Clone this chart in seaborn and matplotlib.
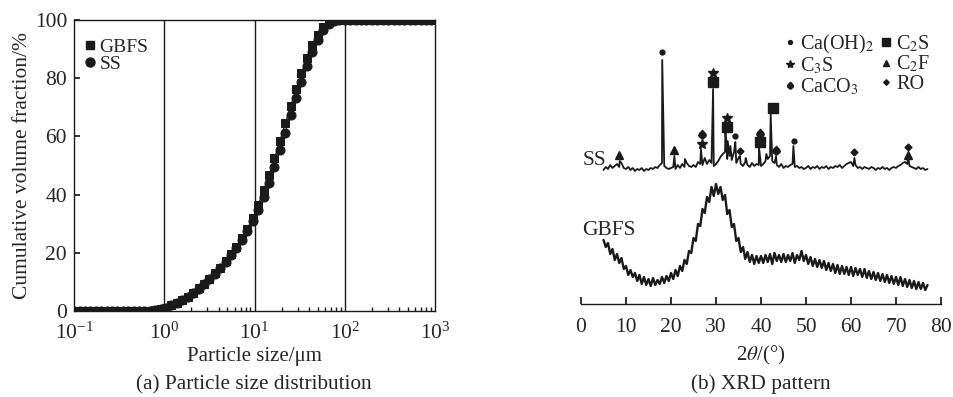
import numpy as np
import pandas as pd
import seaborn as sns
import matplotlib.pyplot as plt
from matplotlib.lines import Line2D

# particle size classes (um) and cumulative volume fraction (%)
sizes = [0.1, 0.115, 0.132, 0.151, 0.174, 0.2, 0.229, 0.263, 0.302, 0.347,
         0.398, 0.457, 0.525, 0.603, 0.692, 0.794, 0.912, 1.047, 1.202, 1.38,
         1.585, 1.82, 2.089, 2.399, 2.754, 3.162, 3.631, 4.169, 4.786, 5.495,
         6.31, 7.244, 8.318, 9.55, 10.965, 12.589, 14.454, 16.596, 19.055, 21.878,
         25.119, 28.84, 33.113, 38.019, 43.652, 50.119, 57.544, 66.069, 75.858, 87.096,
         100.0, 114.815, 131.826, 151.356, 173.78, 199.526, 229.087, 263.027, 301.995, 346.737,
         398.107, 457.088, 524.807, 602.56, 691.831, 794.328, 912.011]
gbfs_cum = [0, 0, 0, 0, 0, 0, 0, 0, 0, 0,
            0, 0, 0, 0.05, 0.15, 0.35, 0.7, 1.2, 1.9, 2.7,
            3.7, 4.9, 6.3, 7.8, 9.4, 11.1, 12.9, 14.9, 17.1, 19.5,
            22.1, 25.0, 28.3, 32.0, 36.5, 41.5, 46.8, 52.5, 58.5, 64.5,
            70.5, 76.3, 81.8, 86.9, 91.3, 95.0, 97.7, 99.3, 99.9, 100,
            100, 100, 100, 100, 100, 100, 100, 100, 100, 100,
            100, 100, 100, 100, 100, 100, 100]
ss_cum = [0, 0, 0, 0, 0, 0, 0, 0, 0, 0,
          0, 0, 0, 0.05, 0.15, 0.35, 0.7, 1.2, 1.9, 2.7,
          3.7, 4.9, 6.2, 7.7, 9.3, 11.0, 12.8, 14.7, 16.8, 19.1,
          21.6, 24.4, 27.5, 31.0, 34.8, 39.2, 44.1, 49.5, 55.2, 61.2,
          67.2, 73.1, 78.8, 84.2, 89.1, 93.2, 96.5, 98.7, 99.7, 100,
          100, 100, 100, 100, 100, 100, 100, 100, 100, 100,
          100, 100, 100, 100, 100, 100, 100]

# XRD: 2theta sampled every 0.5 deg from 5 to 77
theta_grid = np.arange(5.0, 77.01, 0.5)
ss_base = [134, 137, 135, 139, 136, 138, 140, 137, 141, 136,
           135, 137, 134, 136, 133, 135, 134, 136, 133, 135,
           134, 136, 135, 137, 136, 139, 141, 138, 136, 135,
           136, 137, 135, 139, 136, 140, 137, 141, 138, 137,
           139, 137, 142, 140, 139, 146, 140, 144, 141, 138,
           140, 143, 147, 150, 152, 145, 148, 144, 152, 141,
           146, 140, 138, 142, 139, 137, 141, 138, 140, 139,
           138, 140, 143, 145, 148, 143, 141, 139, 137, 140,
           136, 138, 137, 139, 140, 137, 138, 136, 137, 135,
           136, 138, 135, 137, 136, 138, 135, 137, 136, 138,
           135, 137, 136, 138, 137, 139, 136, 138, 140, 141,
           142, 138, 139, 136, 137, 135, 137, 136, 135, 137,
           136, 134, 136, 135, 137, 135, 136, 134, 136, 137,
           136, 138, 139, 141, 142, 140, 138, 137, 136, 135,
           137, 135, 136, 134, 135]
ss_peak_pos = [8.6, 18.05, 20.75, 23.1, 26.65, 29.35, 32.1, 32.6, 33.2, 34.3,
               35.3, 36.6, 39.55, 41.2, 42.15, 43.35, 47.2, 60.75, 72.7]
ss_peak_int = [143, 244, 148, 145, 155, 215, 172, 163, 158, 162,
               148, 146, 157, 150, 190, 148, 158, 146, 147]
gbfs_int = [64, 57, 61, 50, 55, 44, 50, 41, 46, 35,
            38, 29, 34, 27, 31, 23, 29, 20, 27, 19,
            25, 18, 26, 19, 24, 20, 27, 21, 28, 23,
            31, 25, 34, 28, 38, 33, 44, 40, 53, 51,
            66, 63, 80, 78, 95, 91, 107, 102, 117, 108,
            120, 110, 117, 104, 109, 90, 94, 77, 80, 63,
            66, 52, 57, 45, 52, 42, 49, 40, 48, 41,
            48, 41, 49, 42, 50, 40, 51, 43, 49, 42,
            50, 42, 49, 43, 51, 41, 49, 44, 53, 43,
            49, 40, 47, 38, 45, 37, 44, 36, 43, 34,
            41, 33, 40, 31, 39, 30, 38, 30, 37, 29,
            37, 28, 36, 29, 35, 27, 35, 26, 33, 25,
            32, 24, 31, 23, 30, 22, 29, 21, 28, 20,
            27, 19, 27, 18, 25, 17, 24, 16, 23, 15,
            22, 15, 21, 14, 19]

# phase markers above peaks: (phase, 2theta, height)
mark_phase = ['C2F', 'CaOH2', 'C2F', 'CaCO3', 'C3S', 'C3S', 'C2S', 'C3S', 'C2S', 'CaOH2',
              'RO', 'CaCO3', 'C2S', 'C2S', 'CaCO3', 'CaOH2', 'RO', 'RO', 'C2F']
mark_theta = [8.5, 18.0, 20.7, 26.8, 26.8, 29.3, 29.3, 32.5, 32.5, 34.3,
              35.3, 39.7, 39.7, 42.6, 43.4, 47.3, 60.7, 72.7, 72.7]
mark_int = [149, 252, 154, 170, 160, 231, 222, 186, 177, 168,
            153, 171, 162, 196, 154, 163, 152, 157, 149]

phase_style = {
    'CaOH2': ('o', 3.5), 'C2S': ('s', 6.5), 'C3S': ('*', 7.5),
    'C2F': ('^', 6), 'CaCO3': (r'$\spadesuit$', 6), 'RO': ('D', 3.5),
}
phase_label = {
    'CaOH2': 'Ca(OH)$_2$', 'C2S': 'C$_2$S', 'C3S': 'C$_3$S',
    'C2F': 'C$_2$F', 'CaCO3': 'CaCO$_3$', 'RO': 'RO',
}

sns.set_theme(style='ticks')
plt.rcParams['font.family'] = ['Liberation Serif', 'DejaVu Serif']
plt.rcParams['mathtext.fontset'] = 'stix'
plt.rcParams['axes.linewidth'] = 1.0

fig = plt.figure(figsize=(9.54, 3.97), dpi=100)
ax1 = fig.add_axes([0.0776, 0.2166, 0.3784, 0.733])
ax2 = fig.add_axes([0.609, 0.2343, 0.3774, 0.7657])

# (a) particle size distribution
psd = pd.DataFrame({'size': sizes, 'GBFS': gbfs_cum, 'SS': ss_cum})
sns.lineplot(data=psd, x='size', y='SS', ax=ax1, color='k', lw=0.8,
             marker='o', markersize=6.5, markeredgecolor='k')
sns.lineplot(data=psd, x='size', y='GBFS', ax=ax1, color='k', lw=0.8,
             marker='s', markersize=6, markeredgecolor='k')
ax1.set_xscale('log')
ax1.set_xlim(0.1, 1000)
ax1.set_ylim(0, 100)
for v in [1, 10, 100]:
    ax1.axvline(v, color='k', lw=1.0, zorder=0)
for s in ax1.spines.values():
    s.set_color('k')
ax1.tick_params(axis='y', direction='in', length=4, color='k', labelsize=15.5, pad=5)
ax1.tick_params(axis='x', which='major', direction='in', length=0, labelsize=15.5, pad=8)
ax1.tick_params(axis='x', which='minor', direction='in', length=3, color='k')
ax1.set_yticks([0, 20, 40, 60, 80, 100])
ax1.set_xlabel('Particle size/μm', fontsize=15, labelpad=3)
ax1.set_ylabel('Cumulative volume fraction/%', fontsize=15.5, labelpad=2)
h1 = [Line2D([], [], ls='none', marker='s', ms=6, color='k'),
      Line2D([], [], ls='none', marker='o', ms=6.5, color='k')]
ax1.legend(h1, ['GBFS', 'SS'], loc='upper left', bbox_to_anchor=(0.0, 0.975),
           frameon=False, fontsize=14, handlelength=0.5, handletextpad=0.25,
           labelspacing=0.0, borderaxespad=0.15)

# (b) XRD pattern
ss_df = pd.DataFrame({'theta': np.concatenate([theta_grid, ss_peak_pos]),
                      'I': np.concatenate([ss_base, ss_peak_int])}).sort_values('theta')
gb_df = pd.DataFrame({'theta': theta_grid, 'I': gbfs_int})
sns.lineplot(data=ss_df, x='theta', y='I', ax=ax2, color='k', lw=1.3,
             estimator=None, sort=False)
sns.lineplot(data=gb_df, x='theta', y='I', ax=ax2, color='k', lw=1.7,
             estimator=None, sort=False)
for ph, t, h in zip(mark_phase, mark_theta, mark_int):
    m, ms = phase_style[ph]
    ax2.plot(t, h, ls='none', marker=m, ms=ms, color='k')
ax2.text(0.3, 143, 'SS', fontsize=15.5, ha='left', va='center')
ax2.text(0.3, 73, 'GBFS', fontsize=15.5, ha='left', va='center')
ax2.set_xlim(0, 80)
ax2.set_ylim(0, 304)
ax2.set_xticks(range(0, 81, 10))
ax2.set_yticks([])
for side in ['left', 'right', 'top']:
    ax2.spines[side].set_visible(False)
ax2.spines['bottom'].set_color('k')
ax2.tick_params(axis='x', direction='in', length=5, color='k', labelsize=15.5, pad=10)
ax2.set_xlabel(r'2$\theta$/(°)', fontsize=15, labelpad=5)
ax2.set_ylabel('')
order = ['CaOH2', 'C3S', 'CaCO3', 'C2S', 'C2F', 'RO']
h2 = [Line2D([], [], ls='none', marker=phase_style[p][0], ms=phase_style[p][1] * 0.8,
             color='k') for p in order]
ax2.legend(h2, [phase_label[p] for p in order], ncol=2, loc='upper left',
           bbox_to_anchor=(0.823, 0.918), bbox_transform=fig.transFigure,
           frameon=False, fontsize=14.5, handlelength=0.5, handletextpad=0.25,
           labelspacing=0.0, columnspacing=0.35, borderpad=0, borderaxespad=0)

fig.text(0.266, 0.02, '(a) Particle size distribution', fontsize=15.3, ha='center')
fig.text(0.797, 0.02, '(b) XRD pattern', fontsize=15.3, ha='center')

fig.savefig('out.png', dpi=100)
